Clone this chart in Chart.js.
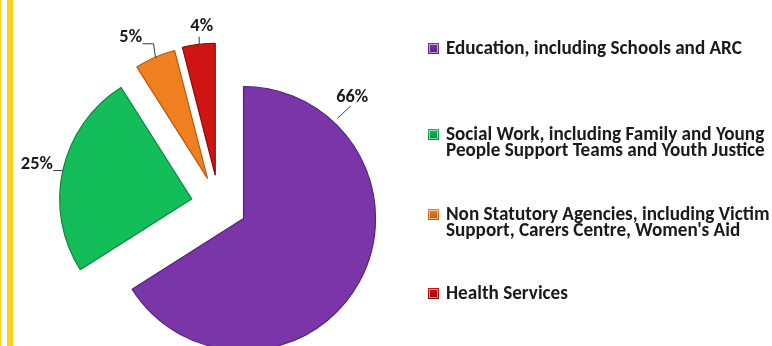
<!DOCTYPE html>
<html><head><meta charset="utf-8">
<script src="https://cdn.jsdelivr.net/npm/chart.js@4/dist/chart.umd.min.js"></script>
<style>
html,body{margin:0;padding:0;background:#fff;}
#wrap{position:relative;width:772px;height:346px;overflow:hidden;background:#fff;}
#c{position:absolute;left:0;top:0;}
.b1{position:absolute;left:0;top:0;width:1px;height:346px;background:#F8D21C;}
.b2{position:absolute;left:7px;top:0;width:6px;height:346px;background:#F8D21C;}
</style></head><body>
<div id="wrap"><canvas id="c" width="772" height="346"></canvas><div class="b1"></div><div class="b2"></div></div>
<script>
// ---- data ----
const categories = [
  ["Education, including Schools and ARC"],
  ["Social Work, including Family and Young", "People Support Teams and Youth Justice"],
  ["Non Statutory Agencies, including Victim", "Support, Carers Centre, Women's Aid"],
  ["Health Services"]
];
const shares = [66, 25, 5, 4];

// ---- style ----
const fills   = ["#7A35A8", "#12BD5A", "#EF7F1F", "#D01414"];
const borders = ["#55207E", "#0A8A3E", "#B45B10", "#8C0A0A"];
const explodePx = [28, 28, 29, 30];
const FONT = '"Carlito", "Lato", sans-serif';
const labelLayout = [
  {frac: 0.18, path: [[4,-4],[17,-16]], text: [19,-20], align: 'center'},
  {frac: 0.5,  path: [[-1,0],[-10,0]], text: [-10,-1], align: 'right'},
  {frac: 0.5,  path: [[0,0],[-2,-14],[-13,-14]], text: [-13,-15], align: 'right'},
  {frac: 0.5,  path: [[0,0],[0,-8]], text: [3,-13], align: 'center'}
];
const legendStyle = {boxX: 428, box: 11, textX: 446, baselines: [54, 140, 220, 299], lineH: 16};

const total = shares.reduce((a, b) => a + b, 0);
const pctLabels = shares.map(v => Math.round(v / total * 100) + '%');

function fitSize(ctx, text, target) {
  ctx.font = 'bold 100px ' + FONT;
  return 100 * target / ctx.measureText(text).width;
}

// explode slices: move each arc's centre along its mid angle, keeping one radius
const explode = {
  id: 'explode',
  afterDatasetUpdate(chart, args) {
    const meta = chart.getDatasetMeta(args.index);
    meta.data.forEach((arc, i) => {
      const half = (arc.startAngle + arc.endAngle) / 2;
      arc.x += Math.cos(half) * explodePx[i];
      arc.y += Math.sin(half) * explodePx[i];
    });
  }
};

const overlay = {
  id: 'overlay',
  afterDatasetsDraw(chart) {
    const ctx = chart.ctx;
    const meta = chart.getDatasetMeta(0);
    ctx.save();
    const ls = fitSize(ctx, pctLabels[0], 32);
    ctx.font = 'bold ' + ls + 'px ' + FONT;
    ctx.lineWidth = 1;
    meta.data.forEach((arc, i) => {
      const L = labelLayout[i];
      const a = arc.startAngle + L.frac * (arc.endAngle - arc.startAngle);
      const ax = arc.x + arc.outerRadius * Math.cos(a), ay = arc.y + arc.outerRadius * Math.sin(a);
      ctx.strokeStyle = '#3a3a3a';
      ctx.beginPath();
      L.path.forEach(([dx, dy], k) => k ? ctx.lineTo(ax + dx + 0.5, ay + dy + 0.5) : ctx.moveTo(ax + dx + 0.5, ay + dy + 0.5));
      ctx.stroke();
      ctx.fillStyle = '#1a1a1a';
      ctx.textAlign = L.align;
      ctx.textBaseline = 'alphabetic';
      ctx.fillText(pctLabels[i], ax + L.text[0], ay + L.text[1]);
    });
    // legend
    const fs = fitSize(ctx, categories[0][0], 296);
    ctx.font = 'bold ' + fs + 'px ' + FONT;
    ctx.textAlign = 'left';
    const S = legendStyle;
    categories.forEach((lines, i) => {
      const b = S.baselines[i];
      const y0 = b - S.box;
      const g = ctx.createLinearGradient(0, y0, 0, y0 + S.box);
      g.addColorStop(0, fills[i]);
      g.addColorStop(1, borders[i]);
      ctx.fillStyle = g;
      ctx.fillRect(S.boxX, y0, S.box, S.box);
      ctx.strokeStyle = 'rgba(255,255,255,0.55)';
      ctx.strokeRect(S.boxX + 1.5, y0 + 1.5, S.box - 3, S.box - 3);
      ctx.fillStyle = '#1a1a1a';
      lines.forEach((ln, k) => ctx.fillText(ln, S.textX, b + k * S.lineH));
    });
    ctx.restore();
  }
};

new Chart(document.getElementById('c'), {
  type: 'pie',
  data: {
    labels: categories,
    datasets: [{
      data: shares,
      backgroundColor: fills,
      borderColor: borders,
      borderWidth: 1.2,
      clip: false
    }]
  },
  options: {
    responsive: false,
    animation: false,
    events: [],
    radius: 132,
    layout: {padding: {left: 0, right: 334, top: 64, bottom: 0}},
    plugins: {legend: {display: false}, tooltip: {enabled: false}, title: {display: false}}
  },
  plugins: [explode, overlay]
});
</script>
</body></html>
